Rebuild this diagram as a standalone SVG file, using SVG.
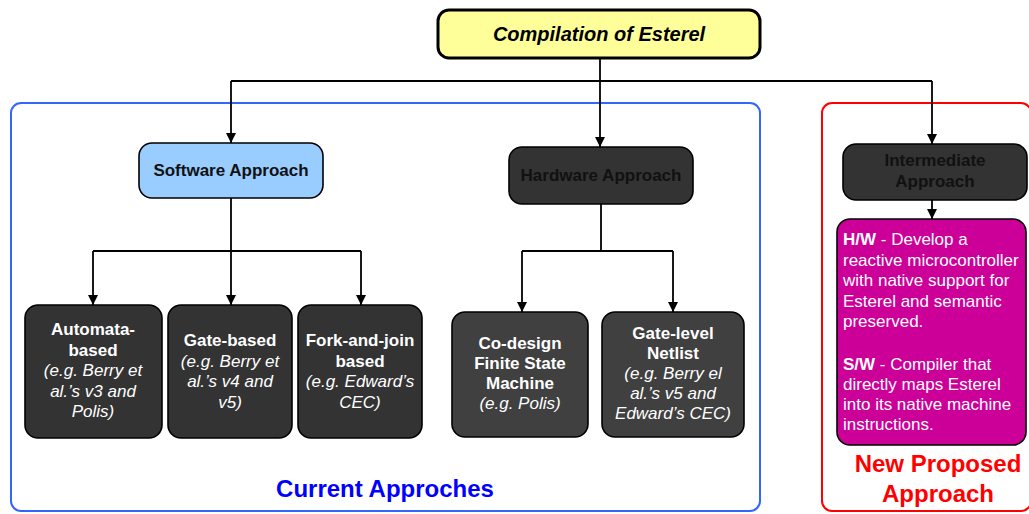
<svg xmlns="http://www.w3.org/2000/svg" width="1029" height="514" viewBox="0 0 1029 514">
  <style>
    .bx { stroke: #000; stroke-width: 1.6; }
    .dark { fill: #333333; }
    .dark2 { fill: #404040; }
    .t { font-family: "Liberation Sans", Arial, sans-serif; font-size: 17px; text-anchor: middle; }
    .b { font-weight: bold; }
    .i { font-style: italic; }
    .w { fill: #ffffff; }
    .k { fill: #111111; }
    .conn { fill: none; stroke: #000; stroke-width: 1.8; }
  </style>
  <defs>
    <marker id="arr" viewBox="0 0 10 10" refX="10" refY="5" markerWidth="10" markerHeight="10" orient="auto" markerUnits="userSpaceOnUse">
      <path d="M0,0 L10,5 L0,10 z" fill="#000"/>
    </marker>
  </defs>

  <rect width="1029" height="514" fill="#ffffff"/>

  <!-- grouping frames -->
  <g id="current-frame">
    <rect x="11" y="103" width="749" height="408" rx="10" fill="none" stroke="#3366FF" stroke-width="2"/>
    <text x="385" y="497" class="t b" style="font-size:24px" fill="#0000FF">Current Approches</text>
  </g>
  <g id="proposed-frame">
    <rect x="822" y="103" width="209" height="408" rx="10" fill="none" stroke="#FF0000" stroke-width="2"/>
    <text x="938" y="472" class="t b" style="font-size:24px" fill="#FF0000">New Proposed</text>
    <text x="938" y="502" class="t b" style="font-size:24px" fill="#FF0000">Approach</text>
  </g>

  <!-- connectors -->
  <g id="connectors" class="conn">
    <path d="M600,58 V81"/>
    <path d="M231,81 H932"/>
    <path d="M231,81 V143" marker-end="url(#arr)"/>
    <path d="M600,81 V147" marker-end="url(#arr)"/>
    <path d="M932,81 V144" marker-end="url(#arr)"/>
    <path d="M231,198 V305" marker-end="url(#arr)"/>
    <path d="M93,251 H361"/>
    <path d="M93,251 V305" marker-end="url(#arr)"/>
    <path d="M361,251 V305" marker-end="url(#arr)"/>
    <path d="M601,204 V251"/>
    <path d="M522,251 H673"/>
    <path d="M522,251 V312" marker-end="url(#arr)"/>
    <path d="M673,251 V312" marker-end="url(#arr)"/>
    <path d="M932,200 V219" marker-end="url(#arr)"/>
  </g>

  <!-- nodes -->
  <g id="title">
    <rect x="438" y="10" width="322" height="48" rx="11" fill="#FFFF99" stroke="#000" stroke-width="3"/>
    <text x="599" y="41" class="t b i" style="font-size:20px" fill="#000">Compilation of Esterel</text>
  </g>

  <g id="software">
    <rect x="139" y="143" width="184" height="55" rx="13" fill="#99CCFF" class="bx"/>
    <text x="231" y="176" class="t b k">Software Approach</text>
  </g>

  <g id="hardware">
    <rect x="509" y="147" width="184" height="57" rx="13" class="bx dark"/>
    <text x="601" y="181" class="t b k">Hardware Approach</text>
  </g>

  <g id="intermediate">
    <rect x="843" y="144" width="184" height="56" rx="13" class="bx dark"/>
    <text x="935" y="166" class="t b k">Intermediate</text>
    <text x="935" y="187" class="t b k">Approach</text>
  </g>

  <g id="automata">
    <rect x="25" y="305" width="137" height="133" rx="13" class="bx dark"/>
    <text x="93" y="335" class="t b w">Automata-</text>
    <text x="93" y="355.5" class="t b w">based</text>
    <text x="93" y="376" class="t i w">(e.g. Berry et</text>
    <text x="93" y="396.5" class="t i w">al.’s v3 and</text>
    <text x="93" y="417" class="t i w">Polis)</text>
  </g>

  <g id="gate-based">
    <rect x="168" y="305" width="124" height="133" rx="13" class="bx dark"/>
    <text x="230" y="346" class="t b w">Gate-based</text>
    <text x="230" y="366.5" class="t i w">(e.g. Berry et</text>
    <text x="230" y="387" class="t i w">al.’s v4 and</text>
    <text x="230" y="407.5" class="t i w">v5)</text>
  </g>

  <g id="fork-join">
    <rect x="298" y="305" width="124" height="133" rx="13" class="bx dark"/>
    <text x="360" y="346" class="t b w">Fork-and-join</text>
    <text x="360" y="366.5" class="t b w">based</text>
    <text x="360" y="387" class="t i w">(e.g. Edward’s</text>
    <text x="360" y="407.5" class="t i w">CEC)</text>
  </g>

  <g id="codesign-fsm">
    <rect x="452" y="312" width="136" height="125" rx="13" class="bx dark2"/>
    <text x="520" y="349" class="t b w">Co-design</text>
    <text x="520" y="369" class="t b w">Finite State</text>
    <text x="520" y="389" class="t b w">Machine</text>
    <text x="520" y="409" class="t i w">(e.g. Polis)</text>
  </g>

  <g id="gate-netlist">
    <rect x="602" y="312" width="142" height="125" rx="13" class="bx dark2"/>
    <text x="673" y="339" class="t b w">Gate-level</text>
    <text x="673" y="359" class="t b w">Netlist</text>
    <text x="673" y="379" class="t i w">(e.g. Berry el</text>
    <text x="673" y="399" class="t i w">al.’s v5 and</text>
    <text x="673" y="419" class="t i w">Edward’s CEC)</text>
  </g>

  <g id="proposal">
    <rect x="837" y="219" width="189" height="226" rx="13" fill="#CC0099" class="bx"/>
    <g class="t w" style="text-anchor:start">
      <text x="843" y="245"><tspan class="b">H/W</tspan> - Develop a</text>
      <text x="843" y="265.5">reactive microcontroller</text>
      <text x="843" y="286">with native support for</text>
      <text x="843" y="306.5">Esterel and semantic</text>
      <text x="843" y="327">preserved.</text>
      <text x="843" y="370"><tspan class="b">S/W</tspan> - Compiler that</text>
      <text x="843" y="390">directly maps Esterel</text>
      <text x="843" y="410">into its native machine</text>
      <text x="843" y="430">instructions.</text>
    </g>
  </g>
</svg>
